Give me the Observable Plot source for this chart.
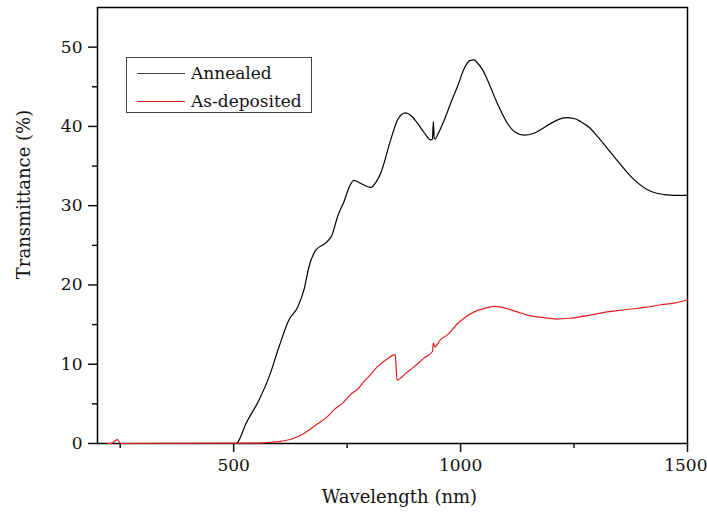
<!DOCTYPE html>
<html>
<head>
<meta charset="utf-8">
<script src="https://cdn.jsdelivr.net/npm/d3@7"></script>
<script src="https://cdn.jsdelivr.net/npm/@observablehq/plot@0.6"></script>
<style>
  html, body { margin: 0; padding: 0; background: #fff; }
  #wrap { position: relative; width: 707px; height: 515px; font-family: "DejaVu Serif", serif; }
  #legend { position: absolute; left: 126px; top: 57px; width: 184px; height: 54px; border: 1px solid #444; background: #fff; }
  .row { position: absolute; left: 0; height: 28px; line-height: 28px; font-size: 17px; color: #111; }
  .swatch { position: absolute; left: 10px; width: 48px; height: 0; }
  .lbl { position: absolute; left: 64px; top: 0; white-space: nowrap; }
</style>
</head>
<body>
<div id="wrap"></div>
<script>
// ---- data ----
const seriesNames = ["Annealed", "As-deposited"];
const seriesColors = ["#000000", "#e41e1e"];

const annealedWl = [220,505,508,527,556,578,600,622,641,655,666,681,703,716,730,743,755,765,777,787,802,814,824,846,861,870,879,890,905,920,934,938,940,942,944,950,964,980,993,1008,1020,1030,1037,1048,1059,1081,1103,1120,1140,1160,1177,1206,1232,1250,1265,1285,1302,1338,1375,1412,1430,1449,1470,1500];
const annealedT  = [0,0,0.1,2.5,5.5,8.4,12.2,15.6,17.2,19.4,22.3,24.4,25.3,26.2,28.8,30.5,32.4,33.2,32.9,32.6,32.3,33.0,34.1,38.3,40.8,41.5,41.7,41.4,40.4,39.2,38.3,38.4,40.6,38.5,38.4,39.0,40.8,43.2,45.0,47.3,48.3,48.4,48.0,47.2,45.9,42.9,40.4,39.3,38.9,39.1,39.6,40.6,41.1,41.0,40.6,39.8,38.7,36.2,33.7,32.0,31.6,31.4,31.3,31.3];

const depositedWl = [222,229,244,251,556,593,630,650,666,685,703,722,740,760,776,787,800,817,839,856,860,880,898,920,938,940,943,956,971,993,1010,1030,1050,1074,1090,1103,1125,1147,1180,1213,1240,1265,1295,1323,1350,1382,1410,1441,1470,1500];
const depositedT  = [0,0,0.5,0,0.05,0.2,0.6,1.1,1.7,2.5,3.2,4.3,5.1,6.3,7.0,7.8,8.6,9.7,10.7,11.2,8.0,8.9,9.7,10.8,11.6,12.7,12.2,13.1,13.7,15.1,15.9,16.6,17.0,17.3,17.2,17.0,16.6,16.2,15.9,15.7,15.8,16.0,16.3,16.6,16.8,17.0,17.2,17.5,17.7,18.1];

const xMajorTicks = [500, 1000, 1500];
const xInnerLabels = [500, 1000];
const xLastLabel = [1500];
const xMinorTicks = [250, 750, 1250];
const yMajorTicks = [0, 10, 20, 30, 40, 50];
const yMinorTicks = [5, 15, 25, 35, 45];
const xLabel = "Wavelength (nm)";
const yLabel = "Transmittance (%)";

// ---- build table ----
const rows = [];
annealedWl.forEach((w, i) => rows.push({series: seriesNames[0], wl: w, t: annealedT[i]}));
depositedWl.forEach((w, i) => rows.push({series: seriesNames[1], wl: w, t: depositedT[i]}));

const serif = "'DejaVu Serif', serif";

const plot = Plot.plot({
  width: 707,
  height: 515,
  marginLeft: 97,
  marginRight: 20,
  marginTop: 7,
  marginBottom: 72,
  style: {fontFamily: serif, fontSize: "17px", color: "#111", background: "#fff"},
  x: {domain: [200, 1500]},
  y: {domain: [0, 55]},
  color: {domain: seriesNames, range: seriesColors},
  marks: [
    Plot.axisX({ticks: xMajorTicks, tickSize: 9, text: null, strokeWidth: 1.5, label: null}),
    Plot.axisX({ticks: xInnerLabels, tickFormat: d3.format("d"), tickSize: 0, tickPadding: 15, label: null, fontSize: 17}),
    Plot.axisX({ticks: xLastLabel, tickFormat: d3.format("d"), tickSize: 0, tickPadding: 15, label: null, fontSize: 17, textAnchor: "end", dx: 20}),
    Plot.axisX({ticks: xMinorTicks, tickSize: 5, text: null, strokeWidth: 1.5, label: null}),
    Plot.axisY({ticks: yMajorTicks, tickFormat: d3.format("d"), tickSize: 9, tickPadding: 6, strokeWidth: 1.5, label: null, fontSize: 17}),
    Plot.axisY({ticks: yMinorTicks, tickSize: 5, text: null, strokeWidth: 1.5, label: null}),
    Plot.frame({stroke: "#000", strokeWidth: 1.5}),
    Plot.line(rows, {x: "wl", y: "t", z: "series", stroke: "series", strokeWidth: 1.2, curve: "monotone-x"}),
    Plot.text([xLabel], {text: d => d, frameAnchor: "bottom", dx: 7, dy: 59, fontSize: 18, textAnchor: "middle"}),
    Plot.text([yLabel], {text: d => d, frameAnchor: "left", dx: -73, dy: -31, rotate: -90, fontSize: 18, textAnchor: "middle"})
  ]
});

const wrap = document.getElementById("wrap");
wrap.appendChild(plot);

// legend overlay inside plot area
const legend = document.createElement("div");
legend.id = "legend";
seriesNames.forEach((name, i) => {
  const row = document.createElement("div");
  row.className = "row";
  row.style.top = (i === 0 ? 1 : 29) + "px";
  row.style.width = "184px";
  const sw = document.createElement("div");
  sw.className = "swatch";
  sw.style.top = "14px";
  sw.style.borderTop = "1.2px solid " + (i === 0 ? "#444" : seriesColors[i]);
  const lb = document.createElement("span");
  lb.className = "lbl";
  lb.textContent = name;
  row.appendChild(sw);
  row.appendChild(lb);
  legend.appendChild(row);
});
wrap.appendChild(legend);
</script>
</body>
</html>
